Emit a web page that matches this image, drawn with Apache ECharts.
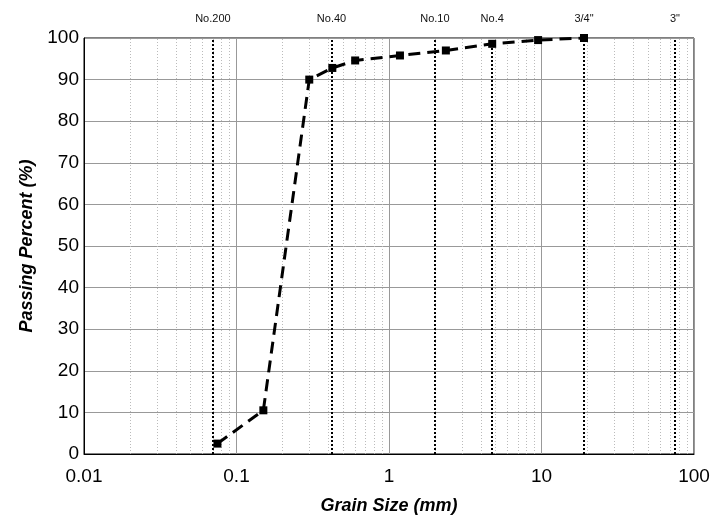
<!DOCTYPE html>
<html>
<head>
<meta charset="utf-8">
<script src="https://cdn.jsdelivr.net/npm/echarts@6/dist/echarts.min.js"></script>
<style>
html,body{margin:0;padding:0;background:#fff;}
#c{width:713px;height:520px;}
</style>
</head>
<body>
<div id="c"></div>
<script>
// Data
var grainSize = [0.075, 0.15, 0.3, 0.425, 0.6, 1.18, 2.36, 4.75, 9.5, 19];
var passing   = [2.5, 10.5, 90, 92.8, 94.6, 95.8, 97.0, 98.6, 99.5, 100];
var sieveNames = ['No.200', 'No.40', 'No.10', 'No.4', '3/4"', '3"'];
var sieveSizes = [0.075, 0.425, 2.0, 4.75, 19, 75];
var minorGrid = [0.02,0.03,0.04,0.05,0.06,0.07,0.08,0.09,
                 0.2,0.3,0.4,0.5,0.6,0.7,0.8,0.9,
                 2,3,4,5,6,7,8,9,
                 20,30,40,50,60,70,80,90];

var font = 'Liberation Sans, Arial, sans-serif';
var chart = echarts.init(document.getElementById('c'));

var mainData = grainSize.map(function(x,i){return [x, passing[i]];});

chart.setOption({
  animation: false,
  backgroundColor: '#fff',
  grid: {left: 84, right: 19, top: 38, bottom: 59, show: true, borderColor: '#000', borderWidth: 1, backgroundColor: 'transparent'},
  xAxis: {
    type: 'log', logBase: 10, min: 0.01, max: 100,
    name: 'Grain Size (mm)', nameLocation: 'middle', nameGap: 43,
    nameTextStyle: {fontFamily: font, fontSize: 18, fontStyle: 'italic', fontWeight: 'bold', color: '#000'},
    axisLine: {show: true, lineStyle: {color: '#000', width: 1}},
    axisTick: {show: false},
    axisLabel: {fontFamily: font, fontSize: 19, color: '#000', margin: 13,
      formatter: function(v){ return String(v); }},
    splitLine: {show: true, lineStyle: {color: '#999', width: 1}}
  },
  yAxis: {
    type: 'value', min: 0, max: 100, interval: 10,
    name: 'Passing Percent (%)', nameLocation: 'middle', nameGap: 47,
    nameTextStyle: {fontFamily: font, fontSize: 18, fontStyle: 'italic', fontWeight: 'bold', color: '#000'},
    axisLine: {show: true, lineStyle: {color: '#000', width: 1}},
    axisTick: {show: false},
    axisLabel: {fontFamily: font, fontSize: 19, color: '#000', margin: 5},
    splitLine: {show: true, lineStyle: {color: '#999', width: 1}}
  },
  series: [
    {
      type: 'line', data: [], z: 1, silent: true,
      markLine: {
        silent: true, symbol: ['none','none'], animation: false,
        lineStyle: {color: '#bbb', type: [1,2], width: 1},
        label: {show: false},
        data: minorGrid.map(function(v){return {xAxis: v};})
      }
    },
    {
      type: 'line', data: [], z: 2, silent: true,
      markLine: {
        silent: true, symbol: ['none','none'], animation: false,
        lineStyle: {color: '#000', type: [2,2], width: 2},
        label: {show: true, position: 'end', distance: 14, fontFamily: font, fontSize: 11, color: '#111',
          formatter: function(p){ return sieveNames[p.dataIndex]; }},
        data: sieveSizes.map(function(v){return {xAxis: v};})
      }
    },
    {
      type: 'line', data: mainData, z: 5,
      symbol: 'rect', symbolSize: 8,
      itemStyle: {color: '#000'},
      lineStyle: {color: '#000', width: 3, type: [12,7]}
    }
  ]
});
</script>
</body>
</html>
